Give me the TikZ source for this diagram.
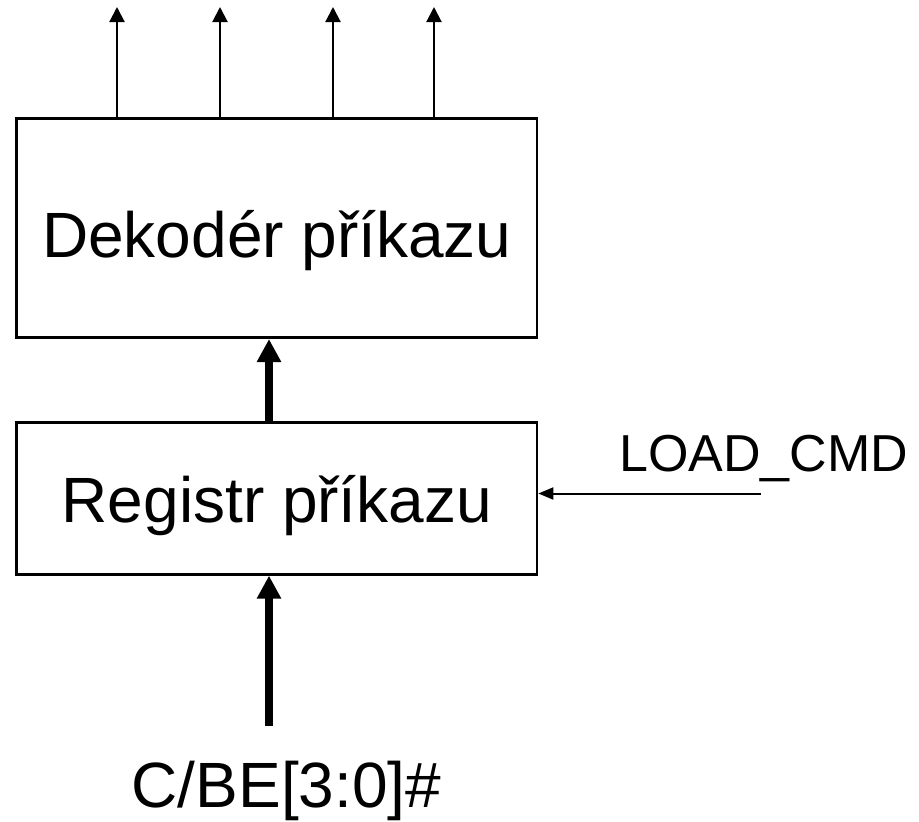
\documentclass[tikz,border=0pt]{standalone}
\usepackage{fontspec}
\setmainfont{Liberation Sans}
\usetikzlibrary{arrows.meta}
\begin{document}
\begin{tikzpicture}[x=1pt,y=-1pt,
  block/.style={draw=black, line width=2.7pt, inner sep=0pt},
  lbl/.style={inner sep=0pt, font=\fontsize{64}{72}\selectfont},
  sig/.style={line width=2pt, -{Triangle[length=15pt,width=15pt]}},
  bus/.style={line width=8pt, -{Triangle[length=23pt,width=23pt]}},
  ctl/.style={line width=2pt, -{Triangle[length=15pt,width=12pt]}}]
  \useasboundingbox (0,0) rectangle (919,822);

  % instruction decoder and its four outputs
  \node[block, minimum width=520.3pt, minimum height=219.4pt] (dec) at (276.85,228) {};
  \node[lbl, anchor=base] (dectxt) at (276.85,257) {Dekodér příkazu};
  \foreach \x/\n in {117/a,220/b,333/c,434/d} {
    \coordinate (o\n) at (\x,7);
    \draw[sig] (dec.north -| o\n) -- (o\n);
  }

  % instruction register
  \node[block, minimum width=520.3pt, minimum height=151.6pt] (reg) at (276.85,498.5) {};
  \node[lbl, anchor=base] (regtxt) at (276.85,522) {Registr příkazu};

  % register -> decoder bus
  \coordinate (busx) at (269,0);
  \draw[bus] (reg.north -| busx) -- (dec.south -| busx);

  % C/BE input bus
  \coordinate (cbe) at (269,725.7);
  \draw[bus] (cbe) -- (reg.south -| cbe);
  \node[lbl, anchor=base] (cbetxt) at (286.5,807) {C/BE[3:0]\#};

  % load strobe
  \coordinate (ld) at (760.7,493.5);
  \draw[ctl] (ld) -- (reg.east |- ld);
  \node[inner sep=0pt, anchor=base west, font=\fontsize{52}{60}\selectfont] (ldtxt) at (619,471.7) {LOAD\_CMD};
\end{tikzpicture}
\end{document}
